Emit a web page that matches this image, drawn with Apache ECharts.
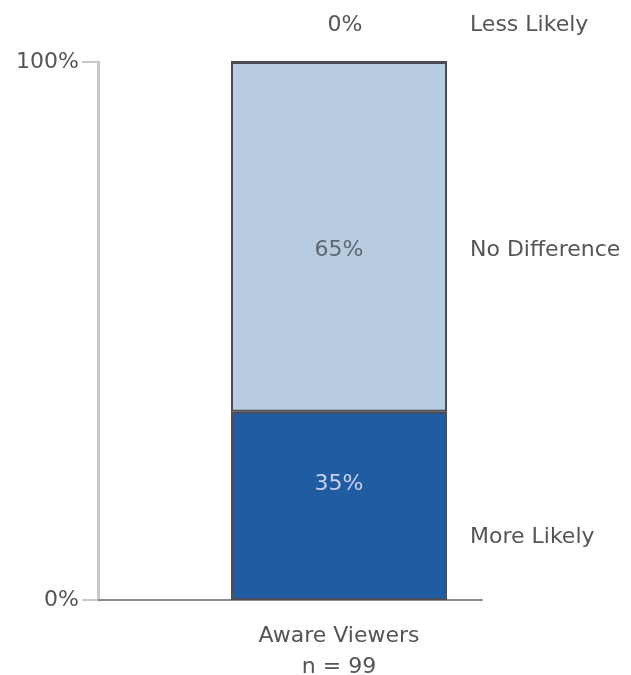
<!DOCTYPE html>
<html>
<head>
<meta charset="utf-8">
<script src="https://cdn.jsdelivr.net/npm/echarts@6/dist/echarts.min.js"></script>
<style>
  html, body { margin: 0; padding: 0; background: #ffffff; }
  #chart { width: 631px; height: 675px; }
</style>
</head>
<body>
<div id="chart"></div>
<script>
// Share of aware viewers by stated likelihood (stacked 100% bar)
const categories = ['Aware Viewers'];
const sampleSizes = [99];
const moreLikely = [35];
const noDifference = [65];
const lessLikely = [0];
const yTicks = [0, 100];

const FONT = 'DejaVu Sans';
const FONT_SIZE = 22;
const chart = echarts.init(document.getElementById('chart'));

const valueLabel = (color, offsetY) => ({
  show: true,
  position: 'inside',
  formatter: '{c}%',
  color: color,
  fontFamily: FONT,
  fontSize: FONT_SIZE,
  offset: [0, offsetY]
});

const nameLabel = (offsetY) => ({
  show: true,
  position: 'right',
  distance: 23,
  formatter: '{a}',
  color: '#555555',
  fontFamily: FONT,
  fontSize: FONT_SIZE,
  offset: [0, offsetY]
});

const stackSeries = [
  { name: 'More Likely', data: moreLikely, color: '#1f5ca1', label: valueLabel('#c9d0f2', -22), nameOffset: 31 },
  { name: 'No Difference', data: noDifference, color: '#b8cce1', label: valueLabel('#5f6670', 13), nameOffset: 13 },
  { name: 'Less Likely', data: lessLikely, color: '#dfe6ee',
    label: { show: true, position: 'top', distance: 25, formatter: '{c}%', color: '#555555', fontFamily: FONT, fontSize: FONT_SIZE, offset: [6, 0] },
    nameOffset: -37 }
];

const series = [];
stackSeries.forEach(s => {
  series.push({
    name: s.name,
    type: 'bar',
    xAxisIndex: 1,
    yAxisIndex: 1,
    stack: 'share',
    barWidth: 216,
    data: s.data,
    itemStyle: { color: s.color, borderColor: '#4a4d55', borderWidth: 2 },
    label: s.label,
    silent: true
  });
});
// Category names set beside the bar, one per segment
stackSeries.forEach(s => {
  series.push({
    name: s.name,
    type: 'bar',
    xAxisIndex: 1,
    yAxisIndex: 1,
    stack: 'names',
    barWidth: 216,
    barGap: '-100%',
    data: s.data,
    itemStyle: { color: 'rgba(0,0,0,0)' },
    label: nameLabel(s.nameOffset),
    silent: true,
    z: 1
  });
});

chart.setOption({
  backgroundColor: '#ffffff',
  animation: false,
  grid: [
    { left: 98, right: 149, top: 62, bottom: 75, outerBoundsMode: 'none' },
    { left: 98, right: 51, top: 62, bottom: 75, outerBoundsMode: 'none' }
  ],
  xAxis: [
    {
      gridIndex: 0,
      type: 'category',
      data: [''],
      axisLine: { show: true, lineStyle: { color: '#8a8a8a', width: 2 } },
      axisTick: { show: false },
      axisLabel: { show: false }
    },
    {
      gridIndex: 1,
      type: 'category',
      data: categories,
      axisLine: { show: false },
      axisTick: { show: false },
      axisLabel: {
        margin: 21,
        fontFamily: FONT,
        fontSize: FONT_SIZE,
        color: '#555555',
        lineHeight: 31,
        formatter: (v, i) => v + '\nn = ' + sampleSizes[i]
      }
    }
  ],
  yAxis: [
    {
      gridIndex: 0,
      type: 'value',
      min: yTicks[0],
      max: yTicks[yTicks.length - 1],
      interval: yTicks[1] - yTicks[0],
      axisLine: { show: true, lineStyle: { color: '#c8c8c8', width: 3 } },
      axisTick: { show: true, length: 16, lineStyle: { color: '#c8c8c8', width: 2 } },
      splitLine: { show: false },
      axisLabel: {
        margin: 19,
        formatter: '{value}%',
        fontFamily: FONT,
        fontSize: FONT_SIZE,
        color: '#555555'
      }
    },
    {
      gridIndex: 1,
      type: 'value',
      min: 0,
      max: 100,
      show: false
    }
  ],
  series: series
});
</script>
</body>
</html>
